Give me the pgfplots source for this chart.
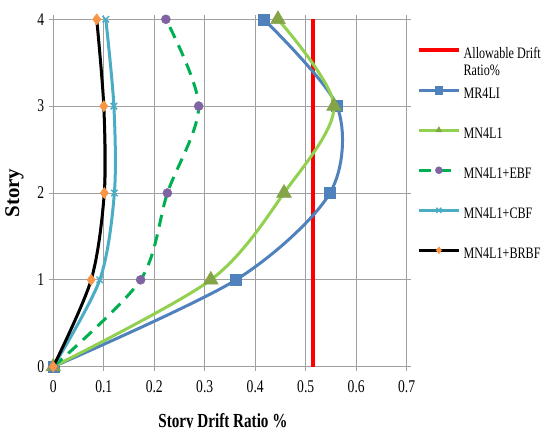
\documentclass[border=0pt]{standalone}
\usepackage{pgfplots}
\pgfplotsset{compat=1.18}
\usepackage{fontspec}
\setmainfont{Liberation Serif}[FakeStretch=0.76]
\newfontfamily\plainserif{Liberation Serif}
\definecolor{cRed}{HTML}{FF0000}
\definecolor{cBlue}{HTML}{4F81BD}
\definecolor{cLGreen}{HTML}{92D050}
\definecolor{cOlive}{HTML}{84A547}
\definecolor{cGreen}{HTML}{00B050}
\definecolor{cPurple}{HTML}{8064A2}
\definecolor{cTeal}{HTML}{4BACC6}
\definecolor{cOrange}{HTML}{F79646}
\definecolor{cGrid}{HTML}{A0A0A0}
\begin{document}
\begin{tikzpicture}
\useasboundingbox (-53.3bp,-61.3bp) rectangle (492.7bp,366.7bp);
\begin{axis}[
  at={(0,0)}, anchor=south west, scale only axis,
  width=353.4bp, height=347.4bp,
  xmin=0, xmax=0.7, ymin=0, ymax=4,
  xtick={0,0.1,0.2,0.3,0.4,0.5,0.6,0.7},
  xticklabels={0,0.1,0.2,0.3,0.4,0.5,0.6,0.7},
  ytick={0,1,2,3,4},
  yticklabels={0,1,2,3,4},
  grid=major,
  major grid style={color=cGrid, line width=1bp},
  axis line style={cGrid, line width=1bp},
  tick align=outside, major tick length=4bp,
  tick style={cGrid, line width=1bp},
  xticklabel style={font=\fontsize{18}{20}\selectfont, yshift=-6bp},
  yticklabel style={font=\fontsize{18}{20}\selectfont, xshift=-1.6bp},
  xlabel={\textbf{Story Drift Ratio \%}},
  ylabel={\textbf{Story}},
  xlabel style={font=\fontsize{20}{22}\selectfont, at={(rel axis cs:0.48,0)}, anchor=base, yshift=-60.3bp},
  ylabel style={font=\plainserif\fontsize{21}{23}\selectfont, at={(rel axis cs:-0.11,0.5)}, anchor=center},
  clip mode=individual,
  legend cell align=left,
  legend style={at={(rel axis cs:1.029,0.923)}, anchor=north west,
    draw=none, fill=none, inner sep=0pt, row sep=24bp, column sep=2bp,
    font=\fontsize{16}{17}\selectfont,
    nodes={inner sep=1bp, text height=11bp, text depth=3bp}},
  legend image code/.code={\draw[mark repeat=2,mark phase=2,#1] plot coordinates {(0bp,4bp) (20bp,4bp) (40bp,4bp)};},
  legend image post style={mark size=3.5bp},
]
\addplot[cRed, line width=3.5bp] coordinates {(0.514,0) (0.514,4)};
\addlegendentry{\begin{tabular}[t]{@{}l@{}}Allowable Drift\\Ratio\%\end{tabular}}

\addplot[cBlue, line width=3bp, smooth, mark=square*, mark size=5.5bp,
  mark options={fill=cBlue, draw=cBlue, line width=0.5bp, solid}]
  coordinates {(0,0) (0.362,1) (0.548,2) (0.562,3) (0.417,4)};
\addlegendentry{MR4LI}

\addplot[cLGreen, line width=3bp, smooth, mark=triangle*, mark size=8.5bp,
  mark options={fill=cOlive, draw=cOlive, line width=0.5bp, solid}]
  coordinates {(0,0) (0.312,1) (0.457,2) (0.556,3) (0.445,4)};
\addlegendentry{MN4L1}

\addplot[cGreen, line width=3bp, smooth, dash pattern=on 12bp off 8bp, mark=*, mark size=4.5bp,
  mark options={fill=cPurple, draw=cPurple, line width=0.5bp, solid}]
  coordinates {(0,0) (0.173,1) (0.226,2) (0.288,3) (0.223,4)};
\addlegendentry{MN4L1+EBF}

\addplot[cTeal, line width=3bp, smooth, mark=x, mark size=4.5bp,
  mark options={draw=cTeal, line width=1.5bp, solid}]
  coordinates {(0,0) (0.092,1) (0.121,2) (0.12,3) (0.104,4)};
\addlegendentry{MN4L1+CBF}

\addplot[black, line width=3bp, smooth, mark=diamond*, mark size=5.5bp,
  mark options={fill=cOrange, draw=cOrange, line width=0.5bp, solid}]
  coordinates {(0,0) (0.075,1) (0.101,2) (0.1,3) (0.086,4)};
\addlegendentry{MN4L1+BRBF}
\end{axis}
\end{tikzpicture}
\end{document}
